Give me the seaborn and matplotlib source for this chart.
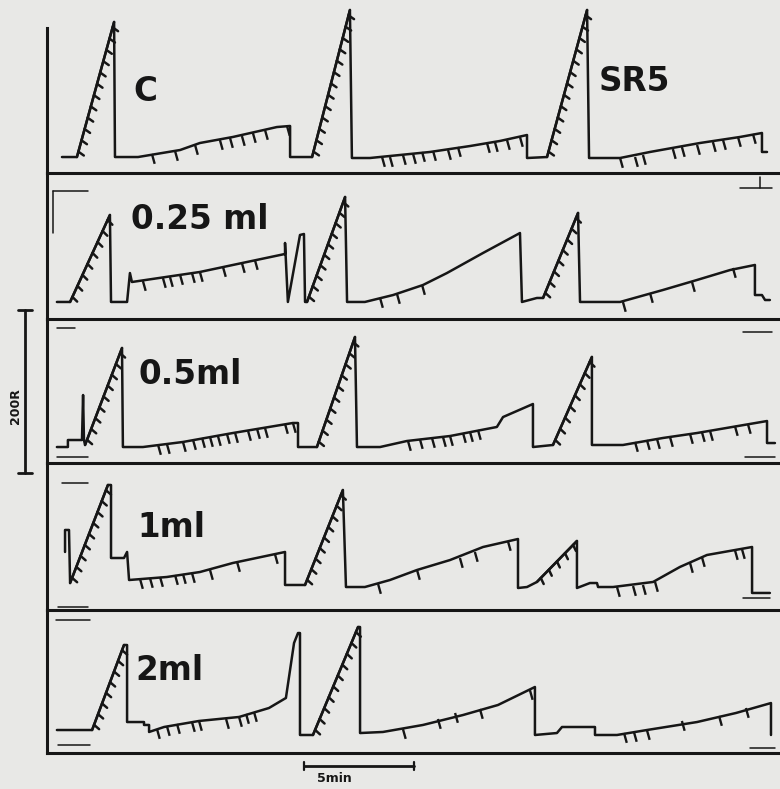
import numpy as np
import pandas as pd
import matplotlib
matplotlib.use("Agg")
import matplotlib.pyplot as plt
import matplotlib.patheffects as pe
from matplotlib.path import Path
import seaborn as sns

# ---------------- data: cumulative records (t = minutes, r = cumulative responses) -------------
panel_labels = ["C", "0.25 ml", "0.5ml", "1ml", "2ml"]
label_t = [4.45, 6.95, 6.5, 5.64, 5.55]
label_r = [99.4, 121.5, 108.0, 101.8, 101.8]
extra_label = "SR5"
extra_label_t = 26.7
extra_label_r = 111.7

# panel 1 (control)
p1_t = [0.68, 1.36, 3.05, 3.09, 4.14, 6.05, 6.95, 8.45, 10.45, 11.05, 11.05, 12.05, 13.77, 13.86,
        14.68, 17.41, 19.23, 20.59, 21.82, 21.82, 22.73, 24.55, 24.64, 26.05, 27.41, 29.68, 31.5,
        32.5, 32.5, 32.73]
p1_r = [19.6, 19.6, 185.3, 19.6, 19.6, 28.2, 36.8, 44.2, 56.4, 57.7, 19.6, 19.6, 200.0, 18.4,
        18.4, 25.8, 33.1, 39.3, 46.6, 18.4, 19.6, 200.0, 18.4, 18.4, 25.8, 36.8, 44.2,
        49.1, 25.8, 25.8]
p1_rises = [(1, 2), (11, 12), (20, 21)]
p1_sr_t = [4.77, 5.82, 6.73, 7.86, 8.32, 8.86, 9.36, 9.91, 10.91,
           15.23, 15.59, 16.18, 16.64, 17.05, 17.55, 18.23, 18.68, 20.0, 20.36, 20.91, 21.5,
           26.05, 26.73, 27.09, 28.45, 28.86, 29.55, 30.27, 30.73, 31.41, 32.09]
p1_sr_r = [23.3, 27.0, 34.4, 40.5, 42.9, 45.4, 49.1, 52.8, 57.7,
           19.6, 19.6, 22.1, 23.3, 25.8, 27.0, 28.2, 31.9, 36.8, 38.0, 40.5, 44.2,
           18.4, 19.6, 22.1, 29.4, 31.9, 34.4, 38.0, 40.5, 44.2, 47.9]

# panel 2 (0.25 ml)
p2_t = [0.45, 1.05, 2.86, 2.91, 3.64, 3.77, 3.86, 6.95, 8.45, 10.82, 10.82, 10.95, 11.5, 11.68,
        11.73, 11.82, 13.55, 13.64, 14.45, 15.73, 17.09, 18.18, 19.82, 21.5, 21.59, 22.27, 22.55,
        24.14, 24.23, 26.05, 28.0, 29.55, 31.05, 32.18, 32.18, 32.5, 32.64, 32.86]
p2_r = [20.9, 20.9, 127.6, 20.9, 20.9, 56.4, 45.4, 57.7, 66.3, 79.8, 93.3, 20.9, 103.1, 104.3,
        20.9, 20.9, 149.7, 20.9, 20.9, 29.4, 41.7, 56.4, 81.0, 105.5, 20.9, 25.8, 25.8,
        130.1, 20.9, 20.9, 35.6, 47.9, 60.1, 66.3, 29.4, 29.4, 23.3, 23.3]
p2_rises = [(1, 2), (15, 16), (26, 27)]
p2_sr_t = [4.36, 5.27, 5.59, 6.05, 6.59, 6.95, 8.0, 8.86, 9.45,
           15.14, 15.91, 17.05,
           26.18, 27.41, 29.32, 31.18]
p2_sr_r = [46.6, 50.3, 51.5, 54.0, 56.4, 57.7, 63.8, 68.7, 72.4,
           25.8, 30.7, 41.7,
           20.9, 31.9, 45.4, 62.6]

# panel 3 (0.5 ml)
p3_t = [0.45, 0.95, 0.95, 1.59, 1.64, 1.68, 1.73, 3.41, 3.45, 4.36, 6.18, 8.45, 11.18, 11.41,
        11.41, 12.27, 14.0, 14.09, 15.14, 16.36, 18.32, 20.45, 20.73, 22.09, 22.09, 23.0, 24.77,
        24.77, 26.18, 28.0, 29.55, 32.73, 32.73, 33.09]
p3_r = [19.6, 19.6, 28.2, 28.2, 83.4, 28.2, 22.1, 141.1, 19.6, 19.6, 25.8, 36.8, 49.1, 49.1,
        19.6, 19.6, 154.6, 19.6, 19.6, 27.0, 33.1, 44.2, 56.4, 72.4, 19.6, 22.1, 130.1,
        22.1, 22.1, 30.7, 36.8, 51.5, 24.5, 24.5]
p3_rises = [(6, 7), (15, 16), (25, 26)]
p3_sr_t = [5.05, 5.45, 6.18, 6.64, 7.05, 7.41, 7.77, 8.18, 8.55, 9.14, 9.55, 9.91, 10.82, 11.18,
           16.41, 16.95, 17.5, 18.0, 18.32, 18.91, 19.23, 19.59,
           26.73, 27.27, 27.73, 28.32, 29.23, 29.77, 30.14, 31.27, 31.86]
p3_sr_r = [22.1, 23.3, 25.8, 28.2, 30.7, 31.9, 33.1, 35.6, 36.8, 39.3, 41.7, 42.9, 47.9, 49.1,
           27.0, 29.4, 30.7, 31.9, 33.1, 36.8, 38.0, 40.5,
           25.8, 28.2, 29.4, 31.9, 35.6, 38.0, 39.3, 45.4, 47.9]

# panel 4 (1 ml)
p4_t = [0.82, 0.82, 1.0, 1.05, 2.77, 2.91, 2.91, 3.5, 3.64, 3.73, 5.45, 6.95, 8.45, 10.82, 10.82,
        11.73, 13.45, 13.59, 14.45, 15.59, 16.82, 18.32, 19.82, 21.41, 21.41, 21.82, 22.27, 24.09,
        24.09, 24.68, 25.0, 25.05, 25.73, 27.55, 28.77, 30.0, 32.05, 32.05, 32.86]
p4_r = [71.2, 98.2, 98.2, 33.1, 153.4, 153.4, 63.8, 63.8, 71.2, 36.8, 40.5, 46.6, 57.7, 71.2, 30.7,
        30.7, 147.2, 28.2, 28.2, 36.8, 49.1, 61.3, 77.3, 87.1, 27.0, 28.2, 34.4, 84.7,
        27.0, 33.1, 33.1, 28.2, 28.2, 34.4, 52.8, 67.5, 77.3, 20.9, 20.9]
p4_rises = [(3, 4), (15, 16), (26, 27)]
p4_sr_t = [4.23, 4.68, 5.14, 5.82, 6.18, 6.59, 7.41, 8.64, 10.36,
           15.05, 16.82, 18.77, 19.45, 20.95,
           25.91, 26.64, 27.09, 27.64, 29.23, 29.77, 31.27, 31.59]
p4_sr_r = [38.0, 39.3, 40.5, 42.9, 44.2, 45.4, 49.1, 58.9, 68.7,
           31.9, 49.1, 63.8, 71.2, 84.7,
           28.2, 29.4, 30.7, 34.4, 57.7, 65.0, 73.6, 74.8]

# panel 5 (2 ml)
p5_t = [0.45, 2.05, 3.5, 3.64, 3.64, 4.41, 4.41, 4.64, 4.64, 5.32, 6.91, 8.73, 10.09, 10.86,
        11.23, 11.41, 11.5, 11.5, 12.09, 14.14, 14.23, 14.23, 15.27, 17.09, 18.91, 20.5, 22.18,
        22.18, 23.18, 23.41, 24.91, 24.91, 25.91, 27.27, 29.55, 31.32, 32.91, 32.91]
p5_r = [28.2, 28.2, 132.5, 132.5, 38.0, 38.0, 34.4, 34.4, 25.8, 31.9, 39.3, 44.2, 55.2, 67.5,
        135.0, 147.2, 147.2, 22.1, 22.1, 154.6, 154.6, 24.5, 25.8, 34.4, 46.6, 58.9, 81.0,
        22.1, 24.5, 31.9, 31.9, 22.1, 22.1, 28.2, 38.0, 49.1, 61.3, 22.1]
p5_rises = [(1, 2), (18, 19)]
p5_sr_t = [5.0, 5.45, 5.91, 6.59, 6.91, 8.14, 8.73, 9.05, 9.41,
           16.18, 17.77, 18.55, 19.68, 21.95,
           26.23, 26.68, 27.27, 28.86, 30.55, 31.77]
p5_sr_r = [29.4, 33.1, 35.6, 38.0, 39.3, 41.7, 44.2, 47.9, 50.3,
           29.4, 41.7, 49.1, 54.0, 77.3,
           24.5, 25.8, 28.2, 39.3, 45.4, 55.2]

# event-pen marks: (t0, t1, r0, r1)
p2_marks = [(0.27, 1.86, 157.0, 157.0), (0.27, 0.27, 157.0, 105.5), (31.5, 32.95, 160.7, 160.7),
            (32.4, 32.4, 174.0, 160.7)]
p3_marks = [(0.45, 1.27, 165.6, 165.6), (0.45, 1.86, 7.4, 7.4), (31.64, 32.95, 160.7, 160.7),
            (31.73, 33.09, 7.4, 7.4)]
p4_marks = [(0.68, 1.86, 155.8, 155.8), (0.5, 1.86, 3.7, 3.7), (31.64, 32.86, 14.7, 14.7)]
p5_marks = [(0.41, 1.95, 163.2, 163.2), (0.5, 1.95, 9.8, 9.8), (31.95, 33.09, 6.1, 6.1)]

scale_time_min = 5
scale_resp = 200

# ---------------- style / layout ----------------
sns.set_style("white")
plt.rcParams["font.family"] = ["DejaVu Sans"]
PAPER = "#e8e8e6"
INK = "#161616"

panels = [
    (p1_t, p1_r, p1_rises, p1_sr_t, p1_sr_r, []),
    (p2_t, p2_r, p2_rises, p2_sr_t, p2_sr_r, p2_marks),
    (p3_t, p3_r, p3_rises, p3_sr_t, p3_sr_r, p3_marks),
    (p4_t, p4_r, p4_rises, p4_sr_t, p4_sr_r, p4_marks),
    (p5_t, p5_r, p5_rises, p5_sr_t, p5_sr_r, p5_marks),
]
heights_px = [170, 146, 144, 147, 143]
PX_PER_R = 0.815
XMAX = 33.32

fig = plt.figure(figsize=(7.8, 7.89), dpi=100, facecolor=PAPER)
gs = fig.add_gridspec(5, 1, left=47 / 780, right=1.0, top=1 - 3 / 789, bottom=36 / 789,
                      hspace=0, height_ratios=heights_px)

tick_marker = Path([(0, 0), (0.28, -1.0)], [Path.MOVETO, Path.LINETO])

axes = []
for i, (t, r, rises, st, sr, marks) in enumerate(panels):
    ax = fig.add_subplot(gs[i])
    axes.append(ax)
    ax.patch.set_visible(False)
    df = pd.DataFrame({"t": t, "r": r})
    sns.lineplot(data=df, x="t", y="r", sort=False, estimator=None, ax=ax,
                 color=INK, linewidth=1.8)
    for a, b in rises:
        seg = df.iloc[[a, b]]
        sns.lineplot(data=seg, x="t", y="r", sort=False, estimator=None, ax=ax,
                     color=INK, linewidth=1.8)
        ax.lines[-1].set_path_effects([pe.withTickedStroke(angle=-110, spacing=8.0, length=0.6)])
    sdf = pd.DataFrame({"t": st, "r": sr})
    sns.scatterplot(data=sdf, x="t", y="r", ax=ax, marker=tick_marker, s=200,
                    facecolor="none", edgecolor=INK, linewidth=1.7, zorder=3)
    for (t0, t1, r0, r1) in marks:
        mdf = pd.DataFrame({"t": [t0, t1], "r": [r0, r1]})
        sns.lineplot(data=mdf, x="t", y="r", sort=False, estimator=None, ax=ax,
                     color=INK, linewidth=1.1)
    ax.set_xlim(0, XMAX)
    ax.set_ylim(0, heights_px[i] / PX_PER_R)
    ax.set_xticks([])
    ax.set_yticks([])
    ax.set_xlabel("")
    ax.set_ylabel("")
    for s in ("top", "right"):
        ax.spines[s].set_visible(False)
    for s in ("left", "bottom"):
        ax.spines[s].set_linewidth(2.2)
        ax.spines[s].set_color(INK)
        ax.spines[s].set_zorder(5)
    ax.text(label_t[i], label_r[i], panel_labels[i], ha="center", va="center",
            fontsize=23.5, fontweight="bold", color=INK)

axes[0].spines["left"].set_bounds(0, 178)
axes[0].text(extra_label_t, extra_label_r, extra_label, ha="center", va="center",
             fontsize=23.5, fontweight="bold", color=INK)

# 200R scale bar (in panel 3 data units, drawn outside the axes)
ax3 = axes[2]
bar_bottom = -12.3
ax3.plot([-1.0, -1.0], [bar_bottom, bar_bottom + scale_resp], color=INK, lw=2.0, clip_on=False)
ax3.plot([-1.32, -0.68], [bar_bottom, bar_bottom], color=INK, lw=2.0, clip_on=False)
ax3.plot([-1.32, -0.68], [bar_bottom + scale_resp, bar_bottom + scale_resp], color=INK, lw=2.0,
         clip_on=False)
ax3.text(-1.45, 70, "200R", rotation=90, ha="center", va="center", fontsize=9,
         fontweight="bold", color=INK, clip_on=False)

# 5 min scale bar (in panel 5 data units)
ax5 = axes[4]
t0 = 11.7
ax5.plot([t0, t0 + scale_time_min], [-16, -16], color=INK, lw=2.0, clip_on=False)
ax5.plot([t0, t0], [-21, -11], color=INK, lw=1.6, clip_on=False)
ax5.plot([t0 + scale_time_min, t0 + scale_time_min], [-21, -11], color=INK, lw=1.6, clip_on=False)
ax5.text(13.05, -30.7, "5min", ha="center", va="center", fontsize=9, fontweight="bold",
         color=INK)

fig.savefig("out.png", dpi=100, facecolor=PAPER)
